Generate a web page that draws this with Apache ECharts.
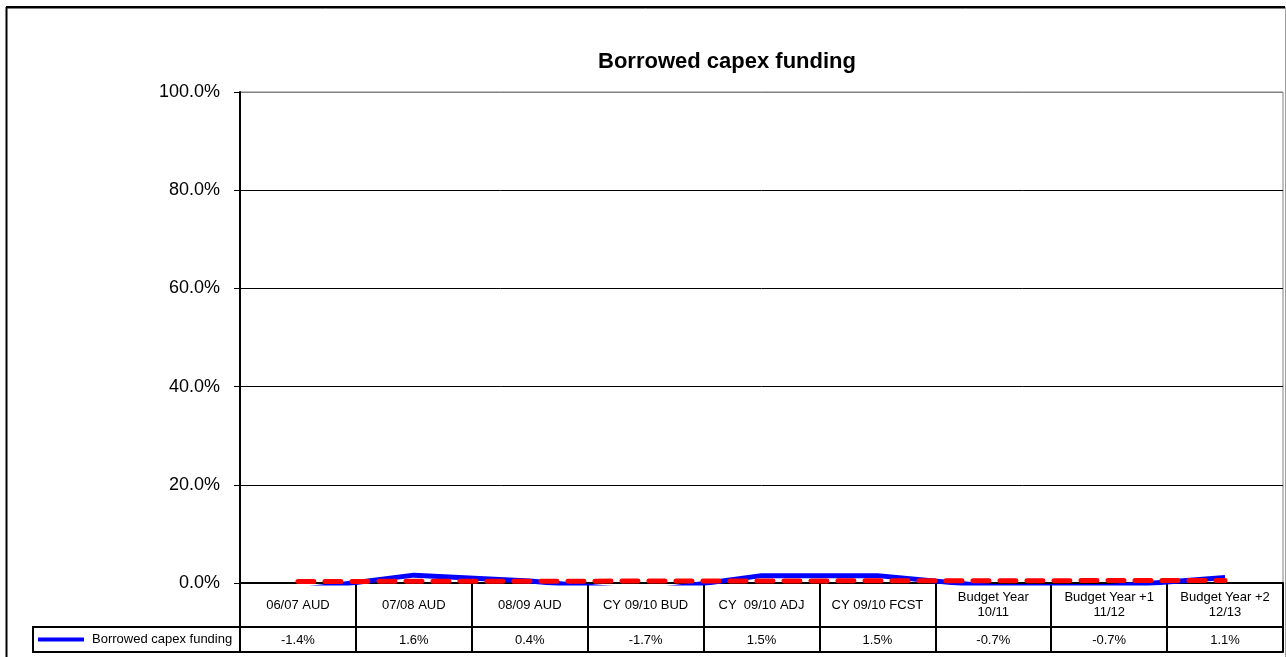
<!DOCTYPE html>
<html>
<head>
<meta charset="utf-8">
<script src="https://cdn.jsdelivr.net/npm/echarts@6/dist/echarts.min.js"></script>
<style>
html,body{margin:0;padding:0;background:#fff;}
#c{width:1286px;height:657px;}
</style>
</head>
<body>
<div id="c"></div>
<script>
var title = 'Borrowed capex funding';
var categories = ['06/07 AUD', '07/08 AUD', '08/09 AUD', 'CY 09/10 BUD', 'CY  09/10 ADJ', 'CY 09/10 FCST', 'Budget Year\n10/11', 'Budget Year +1\n11/12', 'Budget Year +2\n12/13'];
var seriesName = 'Borrowed capex funding';
var values = [-1.4, 1.6, 0.4, -1.7, 1.5, 1.5, -0.7, -0.7, 1.1];
// red dashed trend line
var trend = [0.3, 0.35, 0.35, 0.4, 0.4, 0.45, 0.45, 0.5, 0.5];
var yTicks = [0, 20, 40, 60, 80, 100];

var font = 'Arial, "Liberation Sans", sans-serif';
var chart = echarts.init(document.getElementById('c'));
var valueLabels = values.map(function (v) { return v.toFixed(1) + '%'; });

chart.setOption({
  animation: false,
  backgroundColor: '#fff',
  title: {
    text: title,
    left: 722, top: 46, textAlign: 'center',
    textStyle: { fontFamily: font, fontSize: 22, fontWeight: 'bold', color: '#000' }
  },
  grid: {
    left: 240, top: 92, right: 3, bottom: 74,
    show: true, borderColor: '#808080', borderWidth: 1, backgroundColor: '#fff'
  },
  legend: {
    data: [seriesName],
    left: 38, top: 633,
    icon: 'rect', itemWidth: 46, itemHeight: 4, itemGap: 0,
    textStyle: { fontFamily: font, fontSize: 13, color: '#000', padding: [0, 0, 0, 3] },
    padding: 0
  },
  xAxis: [{
    type: 'category', data: categories, position: 'bottom', boundaryGap: true,
    axisLine: { show: true, lineStyle: { color: '#000', width: 2 } },
    axisTick: { show: true, interval: 0, length: 69, lineStyle: { color: '#000', width: 2 } },
    axisLabel: { interval: 0, margin: 22, verticalAlign: 'middle', fontFamily: font, fontSize: 13, color: '#000', lineHeight: 15 },
    splitLine: { show: false }
  }, {
    type: 'category', data: valueLabels, position: 'bottom', offset: 44, boundaryGap: true,
    axisLine: { show: true, lineStyle: { color: '#000', width: 2 } },
    axisTick: { show: false },
    axisLabel: { interval: 0, margin: 13, verticalAlign: 'middle', fontFamily: font, fontSize: 13, color: '#000' }
  }, {
    type: 'category', data: categories, position: 'bottom', offset: 69, boundaryGap: true,
    axisLine: { show: true, lineStyle: { color: '#000', width: 2 } },
    axisTick: { show: false },
    axisLabel: { show: false }
  }],
  yAxis: {
    type: 'value', min: 0, max: 100, interval: 20,
    axisLine: { show: true, lineStyle: { color: '#000', width: 2 } },
    axisTick: { show: true, length: 6, lineStyle: { color: '#000' } },
    axisLabel: {
      margin: 20, fontFamily: font, fontSize: 18, color: '#000',
      formatter: function (v) { return v.toFixed(1) + '%'; }
    },
    splitLine: { show: true, lineStyle: { color: ['#000', '#000', '#000', '#000', '#000', '#808080'], width: 1 } }
  },
  series: [{
    name: seriesName, type: 'line', data: values, xAxisIndex: 0,
    symbol: 'none', clip: true,
    itemStyle: { color: '#0000ff' },
    lineStyle: { color: '#0000ff', width: 5 }, z: 2
  }, {
    name: 'Trend', type: 'line', data: trend, xAxisIndex: 0,
    symbol: 'none', clip: true,
    itemStyle: { color: '#ff0000' },
    lineStyle: { color: '#ff0000', width: 5, type: [16, 11], cap: 'round' }, z: 3
  }],
  graphic: [
    { type: 'rect', shape: { x: 33, y: 627, width: 207, height: 25 }, style: { fill: 'none', stroke: '#000', lineWidth: 2 }, z: 10 },
    { type: 'line', shape: { x1: 6, y1: 8.5, x2: 1285, y2: 8.5 }, style: { stroke: '#808080', lineWidth: 1 }, z: 10 },
    { type: 'line', shape: { x1: 6, y1: 7, x2: 1285, y2: 7 }, style: { stroke: '#000', lineWidth: 2 }, z: 11 },
    { type: 'line', shape: { x1: 6.5, y1: 7, x2: 6.5, y2: 657 }, style: { stroke: '#000', lineWidth: 2 }, z: 11 },
    { type: 'line', shape: { x1: 1285.5, y1: 7, x2: 1285.5, y2: 657 }, style: { stroke: '#a0a0a0', lineWidth: 1 }, z: 11 }
  ]
});
</script>
</body>
</html>
